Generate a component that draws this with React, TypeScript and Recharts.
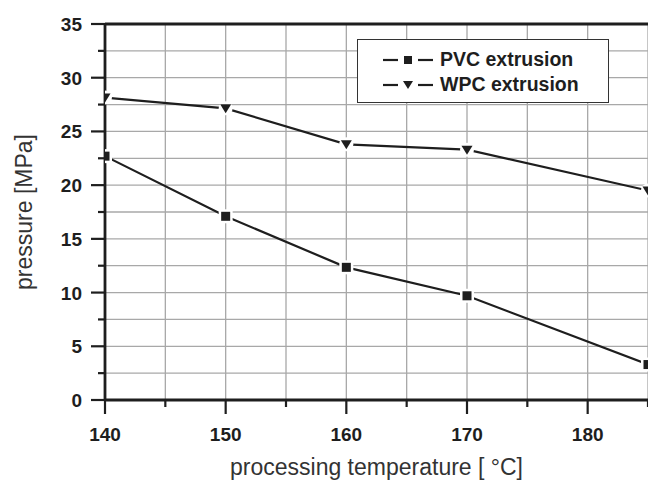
import { LineChart, Line, XAxis, YAxis, CartesianGrid, ReferenceLine, Legend, Label } from 'recharts';

// processing temperature [°C]
const temps = [140, 150, 160, 170, 185];
// pressure [MPa]
const pvcPressure = [22.7, 17.1, 12.35, 9.7, 3.3];
const wpcPressure = [28.15, 27.15, 23.8, 23.3, 19.5];

const xTicks = [140, 145, 150, 155, 160, 165, 170, 175, 180, 185];
const yTicks = [0, 2.5, 5, 7.5, 10, 12.5, 15, 17.5, 20, 22.5, 25, 27.5, 30, 32.5, 35];

const seriesNames = { pvc: 'PVC extrusion', wpc: 'WPC extrusion' };

const data = temps.map((t, i) => ({ t, pvc: pvcPressure[i], wpc: wpcPressure[i] }));

const ink = '#1e1e1e';
const font = '"Liberation Sans", Arial, sans-serif';

function XTick({ x, y, payload }: any) {
  const major = payload.value % 10 === 0;
  return (
    <g>
      <line x1={x} x2={x} y1={y} y2={y + (major ? 14 : 7)} stroke={ink} strokeWidth={2.2} />
      {major && (
        <text x={x} y={y + 41} textAnchor="middle" fontFamily={font} fontWeight="bold" fontSize={19} fill={ink}>
          {payload.value}
        </text>
      )}
    </g>
  );
}

function YTick({ x, y, payload }: any) {
  const major = payload.value % 5 === 0;
  return (
    <g>
      <line x1={x - (major ? 14 : 7)} x2={x} y1={y} y2={y} stroke={ink} strokeWidth={2.2} />
      {major && (
        <text x={x - 23} y={y + 7} textAnchor="end" fontFamily={font} fontWeight="bold" fontSize={19} fill={ink}>
          {payload.value}
        </text>
      )}
    </g>
  );
}

function SquareDot({ cx, cy }: any) {
  return (
    <g>
      <rect x={cx - 7} y={cy - 7} width={14} height={14} fill="#fff" />
      <rect x={cx - 4.5} y={cy - 4.5} width={9} height={9} fill={ink} />
    </g>
  );
}

function TriangleDot({ cx, cy }: any) {
  return (
    <g>
      <circle cx={cx} cy={cy} r={7} fill="#fff" />
      <path d={`M${cx - 5.5},${cy - 4} L${cx + 5.5},${cy - 4} L${cx},${cy + 5} Z`} fill={ink} />
    </g>
  );
}

function LegendSymbol({ kind }: { kind: 'square' | 'triangle' }) {
  return (
    <svg width={50} height={14} style={{ display: 'block' }}>
      <line x1={0} x2={15} y1={7} y2={7} stroke={ink} strokeWidth={2.2} />
      <line x1={35} x2={50} y1={7} y2={7} stroke={ink} strokeWidth={2.2} />
      {kind === 'square' ? (
        <rect x={21} y={3} width={8} height={8} fill={ink} />
      ) : (
        <path d="M20,3 L30,3 L25,11 Z" fill={ink} />
      )}
    </svg>
  );
}

function LegendBox() {
  const rows: { name: string; kind: 'square' | 'triangle' }[] = [
    { name: seriesNames.pvc, kind: 'square' },
    { name: seriesNames.wpc, kind: 'triangle' },
  ];
  return (
    <div
      style={{
        boxSizing: 'border-box',
        width: 252,
        height: 64,
        border: '1.5px solid #333',
        background: '#fff',
        paddingTop: 7,
        paddingLeft: 25,
      }}
    >
      {rows.map((r) => (
        <div key={r.name} style={{ display: 'flex', alignItems: 'center', height: 25 }}>
          <LegendSymbol kind={r.kind} />
          <span style={{ marginLeft: 7, fontFamily: font, fontWeight: 'bold', fontSize: 19.5, color: ink }}>
            {r.name}
          </span>
        </div>
      ))}
    </div>
  );
}

export default function App() {
  return (
    <div style={{ position: 'absolute', left: 0, top: 0, background: '#fff' }}>
      <LineChart width={648} height={488} data={data} margin={{ top: 24, right: 0, bottom: 0, left: 0 }}>
        <CartesianGrid stroke="#a8a8a8" strokeWidth={1.3} />
        <XAxis
          dataKey="t"
          type="number"
          domain={[140, 185]}
          allowDataOverflow
          ticks={xTicks}
          interval={0}
          height={88}
          tickSize={0}
          tickMargin={0}
          tickLine={false}
          tick={<XTick />}
          axisLine={{ stroke: ink, strokeWidth: 2.8 }}
        >
          <Label
            content={({ viewBox }: any) => (
              <text
                x={viewBox.x + viewBox.width / 2}
                y={viewBox.y + 75}
                textAnchor="middle"
                fontFamily={font}
                fontSize={23}
                fill="#333"
              >
                processing temperature [ °C]
              </text>
            )}
          />
        </XAxis>
        <YAxis
          type="number"
          domain={[0, 35]}
          allowDataOverflow
          ticks={yTicks}
          interval={0}
          width={105}
          tickSize={0}
          tickMargin={0}
          tickLine={false}
          tick={<YTick />}
          axisLine={{ stroke: ink, strokeWidth: 2.8 }}
        >
          <Label
            content={({ viewBox }: any) => {
              const cx = viewBox.x + 24;
              const cy = viewBox.y + viewBox.height / 2;
              return (
                <text
                  x={cx}
                  y={cy}
                  transform={`rotate(-90 ${cx} ${cy})`}
                  textAnchor="middle"
                  dominantBaseline="central"
                  fontFamily={font}
                  fontSize={23}
                  fill="#333"
                >
                  pressure [MPa]
                </text>
              );
            }}
          />
        </YAxis>
        <ReferenceLine y={35} stroke={ink} strokeWidth={2.8} />
        <Line
          dataKey="pvc"
          name={seriesNames.pvc}
          stroke={ink}
          strokeWidth={2.2}
          dot={<SquareDot />}
          activeDot={false}
          isAnimationActive={false}
        />
        <Line
          dataKey="wpc"
          name={seriesNames.wpc}
          stroke={ink}
          strokeWidth={2.2}
          dot={<TriangleDot />}
          activeDot={false}
          isAnimationActive={false}
        />
        <Legend
          layout="vertical"
          align="center"
          verticalAlign="middle"
          content={() => <LegendBox />}
          wrapperStyle={{ left: 357, top: 39, width: 252, height: 64 }}
        />
      </LineChart>
    </div>
  );
}
